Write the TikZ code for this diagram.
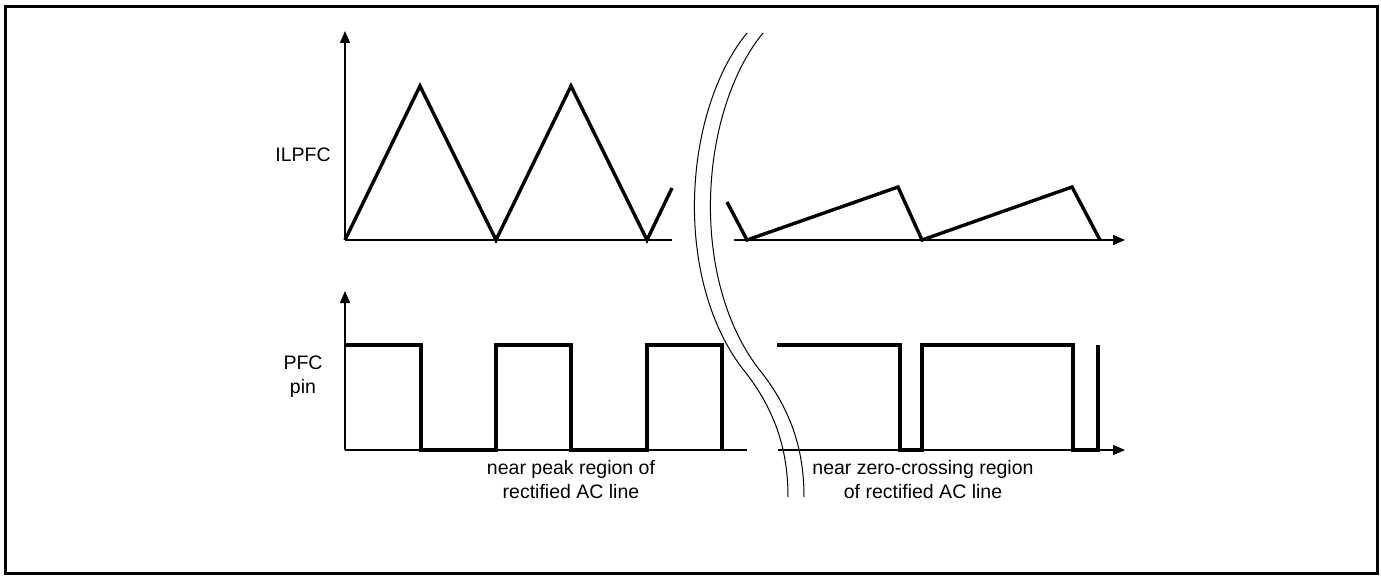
\documentclass[tikz,border=0pt]{standalone}
\usepackage{fontspec}
\setmainfont{Liberation Sans}
\usetikzlibrary{arrows.meta}
\begin{document}
\begin{tikzpicture}[x=1pt,y=-1pt,
  axis/.style={line width=1.3pt,-{Triangle[length=12pt,width=10pt]}},
  base/.style={line width=1.3pt},
  wave/.style={line width=3.4pt,line join=miter,line cap=butt},
  brk/.style={line width=1pt},
  lbl/.style={font=\fontsize{19.5}{24}\selectfont,align=center,inner sep=0pt}]
\useasboundingbox (0,0) rectangle (1381,578);
\draw[line width=3pt] (5,7) rectangle (1377,573);
% top axes
\coordinate (o1) at (345,240);
\coordinate (y1) at (345,31);
\coordinate (x1e) at (672,240);
\coordinate (x1s) at (734,240);
\coordinate (x1t) at (1125,240);
\draw[axis] (o1) -- (y1);
\draw[base] (o1) -- (x1e);
\draw[axis] (x1s) -- (x1t);
% bottom axes
\coordinate (o2) at (345,450);
\coordinate (y2) at (345,291);
\coordinate (x2e) at (747,450);
\coordinate (x2s) at (778,450);
\coordinate (x2t) at (1125,450);
\draw[axis] (o2) -- (y2);
\draw[base] (o2) -- (x2e);
\draw[axis] (x2s) -- (x2t);
% triangle wave
\draw[wave] (345,240) -- (420,86) -- (496,240) -- (571,86) -- (647,240) -- (672,188);
\draw[wave] (727,202) -- (747,240) -- (898,187) -- (922,240) -- (1072,187) -- (1100,240);
% square wave
\draw[wave] (345,345) -- (421,345) -- (421,450) -- (496,450) -- (496,345) -- (571,345) -- (571,450) -- (647,450) -- (647,345) -- (722,345) -- (722,450);
\draw[wave] (777,345) -- (900,345) -- (900,450) -- (922,450) -- (922,345) -- (1073,345) -- (1073,450) -- (1098,450) -- (1098,345);
% break lines
\draw[brk] (747,33) .. controls (684,110) and (672,275) .. (742,368) .. controls (778,412) and (788,455) .. (788,497);
\draw[brk] (763,33) .. controls (700,110) and (688,275) .. (758,368) .. controls (794,412) and (804,455) .. (804,497);
% labels
\node[lbl] (ilpfc) at (303,155) {ILPFC};
\node[lbl] (pfcpin) at (303,377) {PFC\\pin};
\node[lbl] (peak) at (571,480) {near peak region of\\rectified AC line};
\node[lbl] (zero) at (923,480) {near zero-crossing region\\of rectified AC line};
\end{tikzpicture}
\end{document}
